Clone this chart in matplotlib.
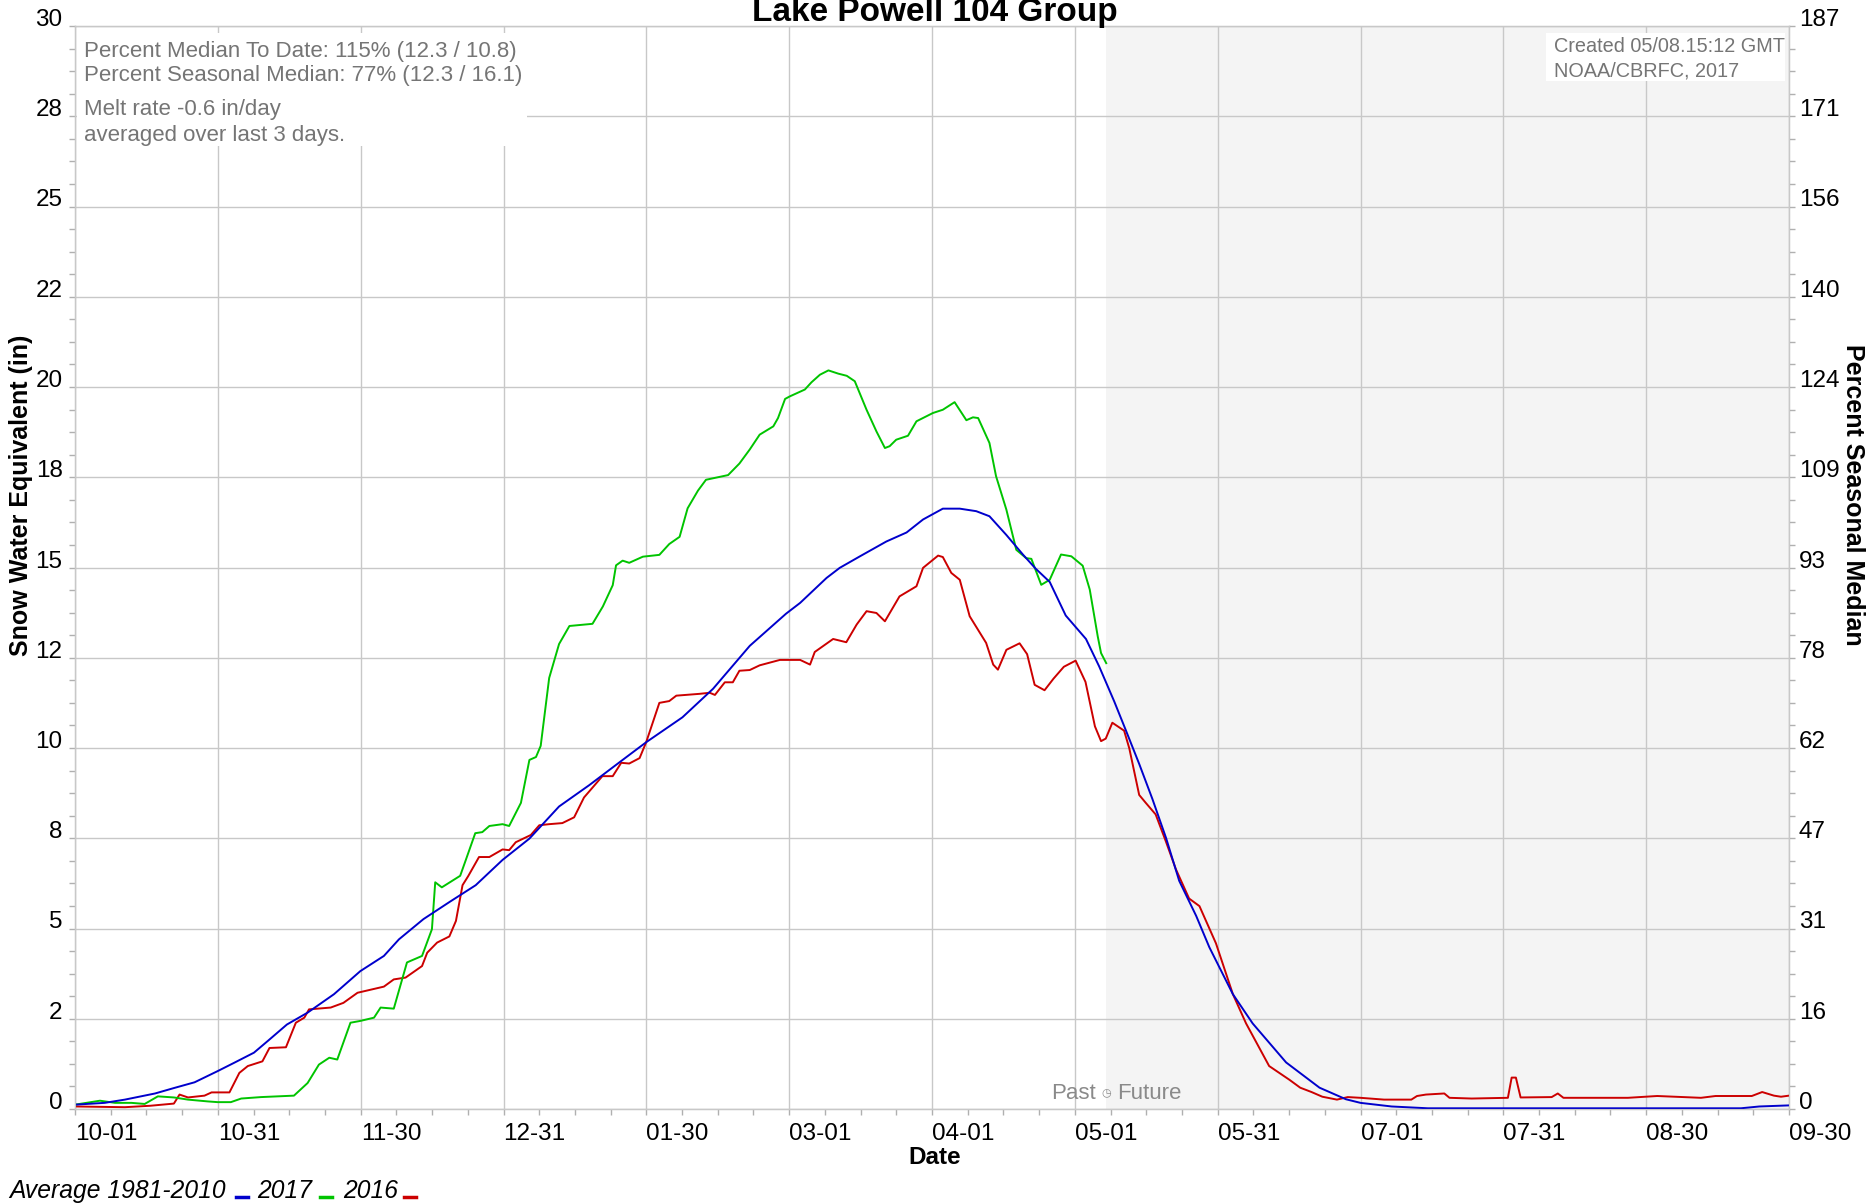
import matplotlib
matplotlib.use("Agg")
import matplotlib.pyplot as plt
import matplotlib.transforms as mtransforms
from matplotlib.lines import Line2D
from matplotlib.patches import Rectangle
from matplotlib.ticker import MultipleLocator
import numpy as np

plt.rcParams['font.family'] = ['Liberation Sans', 'DejaVu Sans']

# ---------------- data ----------------
title = "Lake Powell 104 Group"
x_tick_labels = ["10-01", "10-31", "11-30", "12-31", "01-30", "03-01", "04-01",
                 "05-01", "05-31", "07-01", "07-31", "08-30", "09-30"]
season_days = 364          # water year length shown (10-01 .. 09-30)
today_day = 219            # 05-08, start of "Future"
y_tick_values = [0, 2.5, 5, 7.5, 10, 12.5, 15, 17.5, 20, 22.5, 25, 27.5, 30]
y_tick_labels = ["0", "2", "5", "8", "10", "12", "15", "18", "20", "22", "25", "28", "30"]
right_tick_labels = ["0", "16", "31", "47", "62", "78", "93", "109", "124", "140",
                     "156", "171", "187"]

info_lines_1 = ["Percent Median To Date: 115% (12.3 / 10.8)",
                "Percent Seasonal Median: 77% (12.3 / 16.1)"]
info_lines_2 = ["Melt rate -0.6 in/day", "averaged over last 3 days."]
credit_lines = ["Created 05/08.15:12 GMT", "NOAA/CBRFC, 2017"]

series_names = ["Average 1981-2010", "2017", "2016"]

# Average 1981-2010 (blue)
avg_day = [0, 6.3, 10.6, 17, 21, 25.4, 30.3, 33.8, 38, 40.9, 45, 49.4, 55, 60.6,
           65.6, 68.8, 74, 79.6, 85.1, 90.8, 96.5, 102.8, 109.2, 116.3, 121.3, 129,
           135.5, 143.3, 151, 154, 159.6, 162.4, 166.7, 172.3, 176.6, 180.1, 184.3,
           187.9, 191.4, 194.2, 197.8, 201.3, 204, 207, 210.4, 214.7, 217.5, 220.7,
           223.2, 226, 228.8, 231.7, 234.5, 238.1, 240.9, 245.9, 250.1, 257.2, 264.3,
           269.9, 273, 279.6, 287.3, 353.8, 357.7, 364]
avg_swe = [0.12, 0.17, 0.26, 0.43, 0.58, 0.74, 1.05, 1.28, 1.56, 1.88, 2.34, 2.67,
           3.18, 3.82, 4.24, 4.7, 5.26, 5.74, 6.2, 6.9, 7.49, 8.38, 8.97, 9.67, 10.16,
           10.85, 11.64, 12.83, 13.72, 14.02, 14.71, 14.99, 15.31, 15.72, 15.97, 16.33,
           16.63, 16.63, 16.56, 16.42, 15.9, 15.36, 14.97, 14.6, 13.67, 13.02, 12.26,
           11.29, 10.48, 9.56, 8.59, 7.51, 6.32, 5.35, 4.48, 3.18, 2.37, 1.29, 0.59,
           0.27, 0.17, 0.07, 0.02, 0.02, 0.07, 0.1]

# 2017 (green)
wy2017_day = [0, 5.3, 8.5, 12, 14.8, 17.6, 21, 24, 28.2, 30.3, 33.1, 35.3, 39.5, 46.5,
              49.4, 51.8, 54, 55.7, 58.5, 60.6, 63.5, 64.9, 67.7, 70.5, 73.7, 75.8,
              76.5, 77.9, 81.8, 83, 85, 86.5, 88, 90.8, 92.2, 94.7, 96.5, 97.9, 98.9,
              100.7, 102.8, 105, 109.9, 112.1, 114.2, 114.9, 116.3, 117.7, 120.6,
              124.1, 126.2, 128.4, 130.1, 132.3, 134, 138.7, 141.1, 143.3, 145.4,
              148.3, 149.3, 150.8, 151.8, 155, 156.4, 158.2, 160, 162.1, 163.9, 165.6,
              168.1, 170.2, 172, 173, 174.4, 176.9, 178.7, 182.2, 184.3, 186.8, 189.3,
              190.7, 191.8, 194.2, 195.6, 197.8, 199.9, 202, 203.1, 205.2, 207, 209.4,
              211.6, 214, 215.5, 217.2, 217.9, 219]
wy2017_swe = [0.12, 0.23, 0.17, 0.17, 0.14, 0.35, 0.32, 0.26, 0.21, 0.19, 0.19, 0.29,
              0.33, 0.37, 0.72, 1.23, 1.42, 1.37, 2.39, 2.44, 2.53, 2.81, 2.78, 4.06,
              4.24, 4.98, 6.28, 6.14, 6.46, 6.9, 7.64, 7.67, 7.84, 7.89, 7.84, 8.48,
              9.67, 9.75, 10.06, 11.94, 12.88, 13.38, 13.44, 13.92, 14.51, 15.06, 15.19,
              15.13, 15.3, 15.35, 15.65, 15.85, 16.64, 17.13, 17.43, 17.56, 17.88, 18.27,
              18.68, 18.91, 19.14, 19.67, 19.74, 19.93, 20.13, 20.34, 20.46, 20.37,
              20.31, 20.16, 19.37, 18.77, 18.31, 18.36, 18.54, 18.65, 19.05, 19.28,
              19.37, 19.58, 19.08, 19.16, 19.14, 18.45, 17.53, 16.6, 15.49, 15.26, 15.24,
              14.52, 14.66, 15.36, 15.31, 15.05, 14.39, 13.09, 12.63, 12.35]

# 2016 (red)
wy2016_day = [0, 10.6, 16, 21, 22.2, 24, 27.5, 29, 32.8, 34.9, 36.7, 39.8, 41.3, 44.8,
              46.9, 48.7, 49.7, 54.3, 57, 60, 65.6, 67.7, 70.2, 73.7, 74.8, 76.9, 79.5,
              80.9, 82.3, 83.5, 85.8, 88, 90.8, 92.2, 93.6, 96.8, 98.6, 100.7, 103.5,
              106, 108.1, 112, 114.2, 116, 117.7, 119.9, 121.3, 124.1, 126.2, 127.7,
              132.6, 134.8, 135.9, 138, 139.7, 141.1, 143.3, 145.4, 149.7, 154, 156.1,
              157.1, 161, 163.8, 166, 168.1, 170.2, 172, 175.1, 178.7, 180.1, 183.3,
              184.3, 186.1, 187.9, 190, 193.5, 195, 196, 197.8, 200.6, 202.2, 203.8,
              205.9, 207.8, 210, 212.5, 214.6, 216.6, 217.9, 218.9, 220.3, 222.8, 223.9,
              226, 227.4, 229.5, 231.7, 233.8, 236.6, 238.8, 242.3, 245.9, 248.7, 253.6,
              257.9, 260.2, 262.6, 264.9, 268, 270.3, 273, 278, 283.8, 285, 286.9, 290.8,
              291.9, 296.6, 304.3, 305.1, 306, 307, 313.6, 314.9, 316.1, 322.1, 329.8,
              336, 345.3, 348.4, 356.1, 358.3, 360.8, 362.3, 364]
wy2016_swe = [0.07, 0.05, 0.09, 0.15, 0.4, 0.32, 0.37, 0.46, 0.46, 1.0, 1.19, 1.32, 1.69,
              1.71, 2.39, 2.53, 2.76, 2.81, 2.94, 3.22, 3.39, 3.59, 3.64, 3.96, 4.33,
              4.61, 4.78, 5.21, 6.2, 6.45, 6.98, 6.98, 7.19, 7.17, 7.39, 7.59, 7.86, 7.89,
              7.92, 8.08, 8.63, 9.22, 9.22, 9.59, 9.57, 9.72, 10.16, 11.25, 11.3, 11.45,
              11.5, 11.53, 11.47, 11.82, 11.82, 12.14, 12.16, 12.29, 12.44, 12.44, 12.31,
              12.66, 13.02, 12.93, 13.42, 13.79, 13.74, 13.51, 14.2, 14.48, 14.99, 15.33,
              15.29, 14.85, 14.66, 13.65, 12.91, 12.31, 12.17, 12.72, 12.9, 12.6, 11.75,
              11.6, 11.92, 12.25, 12.42, 11.83, 10.6, 10.19, 10.26, 10.7, 10.48, 9.99,
              8.7, 8.48, 8.16, 7.4, 6.64, 5.83, 5.62, 4.59, 3.18, 2.37, 1.19, 0.81, 0.59,
              0.47, 0.34, 0.26, 0.33, 0.31, 0.26, 0.26, 0.36, 0.4, 0.43, 0.31, 0.29, 0.31,
              0.87, 0.87, 0.32, 0.33, 0.43, 0.31, 0.31, 0.31, 0.36, 0.31, 0.36, 0.36,
              0.47, 0.37, 0.34, 0.37]

# ---------------- style ----------------
W, H = 1872, 1203
C_AVG, C_2017, C_2016 = "#0000CC", "#00C400", "#CC0000"
GRID = "#C8C8C8"
TXT_GRAY = "#757575"

fig = plt.figure(figsize=(W / 100, H / 100), dpi=100)
ax_l, ax_r, ax_t, ax_b = 75, 1789, 26, 1109
ax = fig.add_axes([ax_l / W, 1 - ax_b / H, (ax_r - ax_l) / W, (ax_b - ax_t) / H])

ax.set_xlim(0, season_days)
ax.set_ylim(0, 30)

# future shading
ax.axvspan(today_day, season_days, color="#F4F4F4", zorder=0, lw=0)

# ticks and grid
xt = np.linspace(0, season_days, len(x_tick_labels))
ax.set_xticks(xt)
ax.set_xticklabels(x_tick_labels, ha="left")
ax.xaxis.set_minor_locator(MultipleLocator(season_days / 48))
ax.set_yticks(y_tick_values)
ax.set_yticklabels(y_tick_labels, va="baseline")
ax.yaxis.set_minor_locator(MultipleLocator(0.625))
ax.grid(True, which="major", color=GRID, lw=1.0, zorder=1)
ax.set_axisbelow(True)

for s in ax.spines.values():
    s.set_color(GRID)
    s.set_linewidth(1.0)

ax.tick_params(axis="both", which="both", direction="out", color="#B0B0B0",
               length=4, width=1, labelsize=17.5, labelcolor="black")
ax.tick_params(axis="x", which="major", pad=6)
ax.tick_params(axis="y", which="major", pad=5)

ax2 = ax.twinx()
ax2.set_ylim(0, 30)
ax2.set_yticks(y_tick_values)
ax2.set_yticklabels(right_tick_labels, va="baseline")
ax2.yaxis.set_minor_locator(MultipleLocator(0.625))
ax2.tick_params(axis="y", which="both", direction="out", color="#B0B0B0",
                length=4, width=1, labelsize=17.5, pad=3)
for s in ax2.spines.values():
    s.set_color(GRID)

# series
ax.plot(wy2016_day, wy2016_swe, color=C_2016, lw=1.4, zorder=3)
ax.plot(wy2017_day, wy2017_swe, color=C_2017, lw=1.4, zorder=4)
ax.plot(avg_day, avg_swe, color=C_AVG, lw=1.4, zorder=5)

# white info boxes (figure pixel coordinates -> fraction)
def fx(px):
    return px / W

def fy(py):
    return 1 - py / H

fig.patches.append(Rectangle((fx(77), fy(146)), fx(527) - fx(77), fy(33) - fy(146),
                             transform=fig.transFigure, facecolor="white",
                             edgecolor="none", zorder=2))
fig.patches.append(Rectangle((fx(1546), fy(81)), fx(1785) - fx(1546), fy(33) - fy(81),
                             transform=fig.transFigure, facecolor="white",
                             edgecolor="none", zorder=2))

for i, line in enumerate(info_lines_1):
    fig.text(fx(84), fy(51 + 25 * i), line, fontsize=16, color=TXT_GRAY,
             ha="left", va="center", zorder=3)
for i, line in enumerate(info_lines_2):
    fig.text(fx(84), fy(109 + 26 * i), line, fontsize=16, color=TXT_GRAY,
             ha="left", va="center", zorder=3)
for i, line in enumerate(credit_lines):
    fig.text(fx(1554), fy(46 + 25 * i), line, fontsize=14.3, color=TXT_GRAY,
             ha="left", va="center", zorder=3)

# Past / Future marker
y_pf = 0.43
tr_l = mtransforms.offset_copy(ax.transData, fig=fig, x=-10, y=0, units="dots")
tr_r = mtransforms.offset_copy(ax.transData, fig=fig, x=11, y=0, units="dots")
ax.text(today_day, y_pf, "Past", transform=tr_l, ha="right", va="center",
        fontsize=16, color="#8A8A8A", zorder=6)
ax.text(today_day, y_pf, "\u25F7", ha="center", va="center", fontsize=8,
        color="#8A8A8A", family=["DejaVu Sans"], zorder=6)
ax.text(today_day, y_pf, "Future", transform=tr_r, ha="left", va="center",
        fontsize=16, color="#8A8A8A", zorder=6)

# title and axis labels
fig.text(fx(935), fy(21), title, fontsize=24, fontweight="bold", ha="center",
         va="baseline")
fig.text(fx(935), fy(1158), "Date", fontsize=17.5, fontweight="bold", ha="center",
         va="center")
fig.text(fx(21), fy(495), "Snow Water Equivalent (in)", fontsize=18,
         fontweight="bold", rotation=90, ha="center", va="center")
fig.text(fx(1853), fy(495), "Percent Seasonal Median", fontsize=18,
         fontweight="bold", rotation=-90, ha="center", va="center")

# bottom legend
leg_y = 1191
colors = [C_AVG, C_2017, C_2016]
text_x = [9, 257, 343]
dash_x = [(236, 248), (320, 332), (404, 416)]
for name, c, tx, (d0, d1) in zip(series_names, colors, text_x, dash_x):
    fig.text(fx(tx), fy(leg_y), name, fontsize=17.7, style="italic", ha="left",
             va="center")
    fig.add_artist(Line2D([fx(d0), fx(d1)], [fy(1197), fy(1197)], color=c, lw=2.5,
                          transform=fig.transFigure))

fig.savefig("out.png", dpi=100)
